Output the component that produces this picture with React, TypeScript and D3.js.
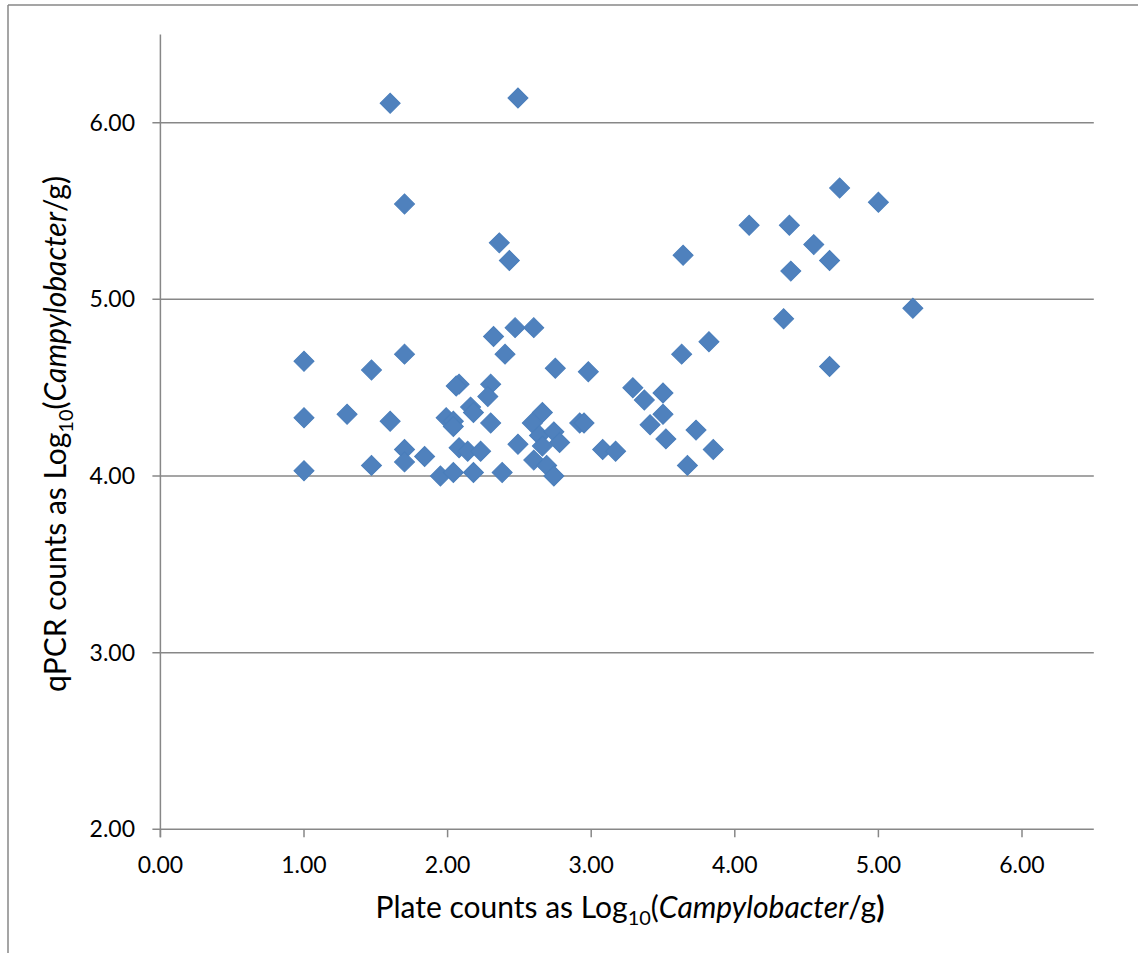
import { scaleLinear, symbol, symbolSquare, range } from 'd3';

const width = 1138;
const height = 953;

// plate counts (x) and qPCR counts (y), Log10(Campylobacter/g)
const plateCounts = [
  1.60, 2.49, 1.70, 2.36, 2.43, 5.00, 4.10, 4.38, 3.64, 4.55,
  4.66, 4.39, 5.24, 4.34, 3.82, 3.63, 4.66, 3.29, 3.37, 3.50,
  4.73, 2.98, 3.50, 3.41, 3.52, 3.73, 3.85, 3.67, 3.08, 3.17,
  2.92, 2.95, 2.47, 2.60, 2.40, 2.75, 2.66, 2.59, 2.64, 2.74,
  2.78, 2.66, 2.49, 2.60, 2.69, 2.74, 2.38, 1.00, 1.47, 1.70,
  1.00, 1.30, 1.60, 1.70, 1.70, 1.84, 1.47, 1.00, 1.95, 2.04,
  2.18, 2.08, 2.06, 2.16, 2.18, 2.30, 2.28, 2.32, 1.99, 2.04,
  2.04, 2.30, 2.08, 2.14, 2.23,
];
const qpcrCounts = [
  6.11, 6.14, 5.54, 5.32, 5.22, 5.55, 5.42, 5.42, 5.25, 5.31,
  5.22, 5.16, 4.95, 4.89, 4.76, 4.69, 4.62, 4.50, 4.43, 4.47,
  5.63, 4.59, 4.35, 4.29, 4.21, 4.26, 4.15, 4.06, 4.15, 4.14,
  4.30, 4.30, 4.84, 4.84, 4.69, 4.61, 4.36, 4.30, 4.23, 4.25,
  4.19, 4.17, 4.18, 4.09, 4.06, 4.00, 4.02, 4.65, 4.60, 4.69,
  4.33, 4.35, 4.31, 4.15, 4.08, 4.11, 4.06, 4.03, 4.00, 4.02,
  4.02, 4.52, 4.51, 4.39, 4.36, 4.52, 4.45, 4.79, 4.33, 4.31,
  4.28, 4.30, 4.16, 4.14, 4.14,
];

const xTicks = [0, 1, 2, 3, 4, 5, 6];
const yTicks = [2, 3, 4, 5, 6];

const x = scaleLinear().domain([0, 6.5]).range([160.4, 1093.8]);
const y = scaleLinear().domain([2, 6.5]).range([829.3, 34.4]);

const diamond = symbol().type(symbolSquare).size(200)();
const font = 'Lato, "Open Sans", sans-serif';
const gridColor = '#878787';

const App = () => {
  return (
    <svg width={width} height={height} style={{ position: 'absolute', left: 0, top: 0 }}>
      <rect x={0} y={0} width={width} height={height} fill="white" />
      {/* outer chart border */}
      <line x1={8} y1={5} x2={width} y2={5} stroke={gridColor} strokeWidth={1.5} />
      <line x1={8} y1={5} x2={8} y2={height} stroke={gridColor} strokeWidth={1.5} />

      {/* horizontal gridlines */}
      {yTicks.map(t => (
        <line key={'g' + t} x1={x(0) - 8} x2={x(6.5)} y1={y(t)} y2={y(t)}
          stroke={gridColor} strokeWidth={1.5} />
      ))}
      <line x1={x(0)} x2={x(0)} y1={y(6.5)} y2={y(2) + 8} stroke={gridColor} strokeWidth={1.5} />
      {xTicks.map(t => (
        <line key={'t' + t} x1={x(t)} x2={x(t)} y1={y(2)} y2={y(2) + 8}
          stroke={gridColor} strokeWidth={1.5} />
      ))}

      {yTicks.map(t => (
        <text key={'yl' + t} x={135} y={y(t)} dy="0.35em" textAnchor="end"
          fontFamily={font} fontSize={23} fill="#000">{t.toFixed(2)}</text>
      ))}
      {xTicks.map(t => (
        <text key={'xl' + t} x={x(t)} y={865} dy="0.35em" textAnchor="middle"
          fontFamily={font} fontSize={23} fill="#000">{t.toFixed(2)}</text>
      ))}

      {range(plateCounts.length).map(i => (
        <path key={i} d={diamond}
          transform={`translate(${x(plateCounts[i])},${y(qpcrCounts[i])}) rotate(45)`}
          fill="#4F81BD" stroke="#4A7EBB" strokeWidth={1} />
      ))}

      <text x={630} y={918} textAnchor="middle" fontFamily={font} fontSize={30} fill="#000">
        Plate counts as Log<tspan fontSize={20} dy={7}>10</tspan>
        <tspan dy={-7}>(</tspan><tspan fontStyle="italic">Campylobacter</tspan>/g<tspan fontWeight="bold">)</tspan>
      </text>
      <text transform={`translate(66,434) rotate(-90)`} textAnchor="middle"
        fontFamily={font} fontSize={30} fill="#000">
        qPCR counts as Log<tspan fontSize={20} dy={7}>10</tspan>
        <tspan dy={-7}>(</tspan><tspan fontStyle="italic">Campylobacter</tspan>/g)
      </text>
    </svg>
  );
};

export default App;
